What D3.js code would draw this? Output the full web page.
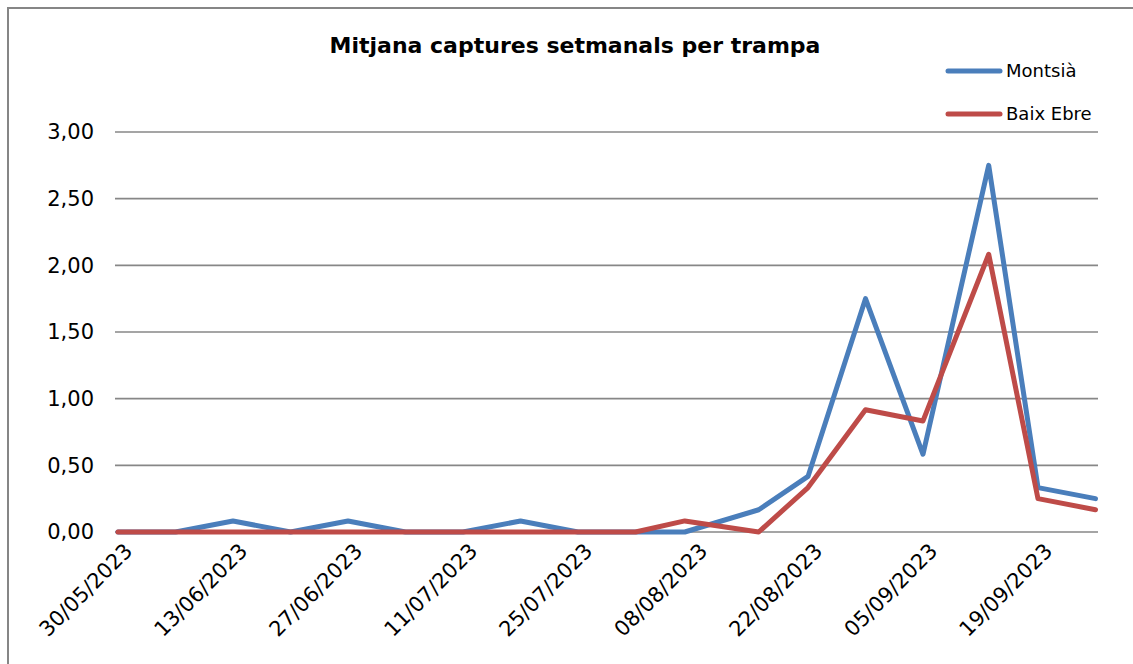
<!DOCTYPE html>
<html>
<head>
<meta charset="utf-8">
<script src="https://cdn.jsdelivr.net/npm/d3@7"></script>
<style>
  body { margin: 0; background: #fff; }
  svg { display: block; }
</style>
</head>
<body>
<div id="chart"></div>
<script>
const width = 1133;
const height = 664;

// Dates de mostreig (dd/mm/yyyy)
const dates = [
    "30/05/2023", "06/06/2023", "13/06/2023", "20/06/2023", "27/06/2023", "04/07/2023",
    "11/07/2023", "18/07/2023", "25/07/2023", "01/08/2023", "07/08/2023", "16/08/2023",
    "22/08/2023", "29/08/2023", "05/09/2023", "13/09/2023", "19/09/2023", "26/09/2023"
];
const montsia = [0, 0, 0.083, 0, 0.083, 0, 0, 0.083, 0, 0, 0, 0.167, 0.417, 1.75, 0.583, 2.75, 0.333, 0.25];
const baixEbre = [0, 0, 0, 0, 0, 0, 0, 0, 0, 0, 0.083, 0, 0.333, 0.917, 0.833, 2.083, 0.25, 0.167];
const xTickLabels = ["30/05/2023", "13/06/2023", "27/06/2023", "11/07/2023", "25/07/2023",
    "08/08/2023", "22/08/2023", "05/09/2023", "19/09/2023"];
const yTicks = [0, 0.5, 1, 1.5, 2, 2.5, 3];
const seriesNames = ["Montsià", "Baix Ebre"];
const colors = ["#4a7ebb", "#be4b48"];

const parse = d3.timeParse("%d/%m/%Y");
const locale = d3.formatLocale({ decimal: ",", thousands: ".", grouping: [3], currency: ["", "€"] });
const fmt = locale.format(".2f");

const svg = d3.select("#chart").append("svg")
    .attr("width", width)
    .attr("height", height);

// vora del gràfic
svg.append("rect")
    .attr("x", 8).attr("y", 8)
    .attr("width", width + 20).attr("height", height + 20)
    .attr("fill", "#fff")
    .attr("stroke", "#868686")
    .attr("stroke-width", 2);

const x = d3.scaleTime()
    .domain([parse(dates[0]), parse(dates[dates.length - 1])])
    .range([118, 1095.5]);

const y = d3.scaleLinear()
    .domain([0, 3])
    .range([532, 132]);

const font = "'DejaVu Sans', sans-serif";

// línies de graella
svg.append("g")
    .selectAll("line")
    .data(yTicks)
    .enter()
    .append("line")
    .attr("x1", 115).attr("x2", 1098)
    .attr("y1", d => y(d)).attr("y2", d => y(d))
    .attr("stroke", "#878787")
    .attr("stroke-width", 1.6);

// eix Y
const yAxis = svg.append("g")
    .attr("transform", "translate(94,0)")
    .call(d3.axisLeft(y).tickValues(yTicks).tickFormat(fmt).tickSize(0).tickPadding(0));
yAxis.select(".domain").remove();
yAxis.selectAll("text")
    .style("font-family", font)
    .style("font-size", "21px")
    .attr("fill", "#000");

// eix X
const xAxis = svg.append("g")
    .attr("transform", "translate(0,532)")
    .call(d3.axisBottom(x)
        .tickValues(xTickLabels.map(parse))
        .tickFormat(d3.timeFormat("%d/%m/%Y"))
        .tickSize(0));
xAxis.select(".domain").remove();
xAxis.selectAll("text")
    .style("font-family", font)
    .style("font-size", "21px")
    .attr("fill", "#000")
    .attr("text-anchor", "end")
    .attr("dy", "0.35em")
    .attr("transform", "translate(10,15) rotate(-45)")
    .attr("y", 0);

// sèries
const line = d3.line()
    .x(d => x(d.date))
    .y(d => y(d.value));

[montsia, baixEbre].forEach((vals, i) => {
    const pts = vals.map((v, j) => ({ date: parse(dates[j]), value: v }));
    svg.append("path")
        .datum(pts)
        .attr("d", line)
        .attr("fill", "none")
        .attr("stroke", colors[i])
        .attr("stroke-width", 5)
        .attr("stroke-linejoin", "round")
        .attr("stroke-linecap", "round");
});

// títol
svg.append("text")
    .attr("x", 575).attr("y", 53)
    .attr("text-anchor", "middle")
    .style("font-family", font)
    .style("font-size", "22px")
    .style("font-weight", "bold")
    .text("Mitjana captures setmanals per trampa");

// llegenda
const legend = svg.append("g");
seriesNames.forEach((name, i) => {
    const ly = 71 + i * 43;
    legend.append("line")
        .attr("x1", 948).attr("x2", 1000)
        .attr("y1", ly).attr("y2", ly)
        .attr("stroke", colors[i])
        .attr("stroke-width", 5)
        .attr("stroke-linecap", "round");
    legend.append("text")
        .attr("x", 1006).attr("y", ly)
        .attr("dy", "0.35em")
        .style("font-family", font)
        .style("font-size", "18px")
        .text(name);
});
</script>
</body>
</html>
